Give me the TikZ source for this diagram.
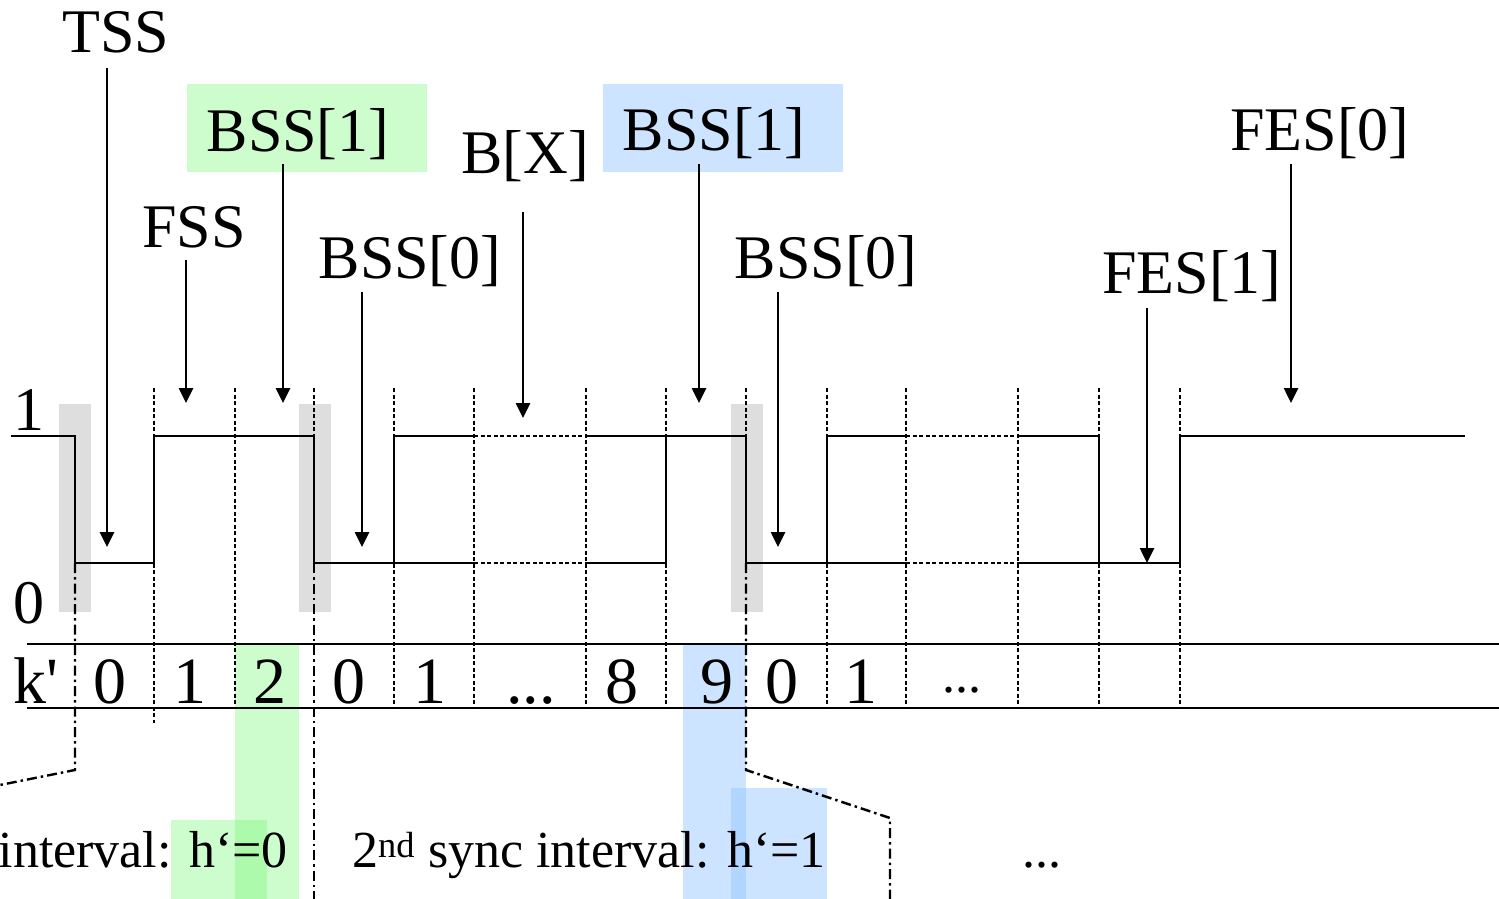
\documentclass[tikz,border=0pt]{standalone}
\usepackage{fontspec}
\setmainfont{Liberation Serif}
\usetikzlibrary{arrows.meta}
\definecolor{gfill}{RGB}{125,247,125}
\definecolor{bfill}{RGB}{142,195,255}
\definecolor{grayfill}{RGB}{222,222,222}
\begin{document}
\begin{tikzpicture}[x=1pt,y=-1pt,
  sig/.style={line width=2.8pt},
  gridline/.style={line width=2.4pt, dash pattern=on 4pt off 2.5pt},
  dashdot/.style={line width=2.4pt, dash pattern=on 10pt off 4pt on 2.5pt off 4pt},
  arr/.style={line width=2.6pt, -{Triangle[width=14pt,length=15pt]}},
  lbl/.style={font=\fontsize{62}{70}\selectfont, inner sep=0pt, anchor=base},
  kd/.style={font=\fontsize{66}{74}\selectfont, inner sep=0pt, anchor=base},
  bt/.style={font=\fontsize{52}{60}\selectfont, inner sep=0pt, anchor=base},
  gbox/.style={fill=gfill, fill opacity=0.39, draw=none},
  bbox/.style={fill=bfill, fill opacity=0.45, draw=none},
  graybar/.style={fill=grayfill, draw=none},
]
\useasboundingbox (0,0) rectangle (1499,899);
\clip (0,0) rectangle (1499,899);
% highlight boxes
\fill[graybar] (59,404) rectangle (91,612);
\fill[graybar] (299,404) rectangle (331,612);
\fill[graybar] (731,404) rectangle (763,612);
\fill[gbox] (187,84) rectangle (427,172);
\fill[gbox] (235,645) rectangle (299,899);
\fill[gbox] (171,820) rectangle (267,899);
\fill[bbox] (603,84) rectangle (843,172);
\fill[bbox] (683,645) rectangle (746,899);
\fill[bbox] (731,788) rectangle (827,899);
% grid lines
\foreach \gx in {235,394,474,586,666,827,906,1018,1099,1180}
  \draw[gridline] (\gx,388) -- (\gx,708);
\draw[gridline] (154,388) -- (154,723);
\draw[gridline] (314,388) -- (314,436);
\draw[gridline] (746,388) -- (746,436);
% dash-dot separators
\draw[dashdot] (75,563) -- (75,770) -- (-100,805);
\draw[dashdot] (314,563) -- (314,899);
\draw[dashdot] (746,563) -- (746,770) -- (890,818) -- (890,899);
% signal
\draw[sig] (11,436) -- (75,436) -- (75,563) -- (154,563) -- (154,436) -- (314,436) -- (314,563) -- (474,563);
\draw[sig] (394,563) -- (394,436) -- (474,436);
\draw[gridline] (474,436) -- (586,436);
\draw[gridline] (474,563) -- (586,563);
\draw[sig] (586,563) -- (666,563) -- (666,436);
\draw[sig] (586,436) -- (746,436) -- (746,563) -- (906,563);
\draw[sig] (827,563) -- (827,436) -- (906,436);
\draw[gridline] (906,436) -- (1018,436);
\draw[gridline] (906,563) -- (1018,563);
\draw[sig] (1018,436) -- (1099,436) -- (1099,563);
\draw[sig] (1018,563) -- (1180,563) -- (1180,436) -- (1465,436);
% k' row lines
\draw[sig] (27,644) -- (1499,644);
\draw[sig] (27,708) -- (1499,708);
% left labels
\node[lbl, anchor=base west] (one) at (13,430) {1};
\node[lbl, anchor=base west] (zero) at (13,623) {0};
\node[kd, anchor=base west] (kp) at (13,703) {k\textquotesingle};
% k' values
\node[kd] (k1) at (110,703) {0};
\node[kd] (k2) at (190,703) {1};
\node[kd] (k3) at (270,703) {2};
\node[kd] (k4) at (349,703) {0};
\node[kd] (k5) at (430,703) {1};
\node[kd] (k6) at (531,703) {...};
\node[kd] (k7) at (622,703) {8};
\node[kd] (k8) at (717,703) {9};
\node[kd] (k9) at (782,703) {0};
\node[kd] (k10) at (861,703) {1};
\node[bt] (k11) at (962,692) {...};
% top labels
\node[lbl] (tss) at (116,53) {TSS};
\node[lbl] (fss) at (194,247) {FSS};
\node[lbl] (bssg) at (298,151) {BSS[1]};
\node[lbl] (bx) at (525,173) {B[X]};
\node[lbl] (bssa) at (410,278) {BSS[0]};
\node[lbl] (bssb) at (714,150) {BSS[1]};
\node[lbl] (bssc) at (826,278) {BSS[0]};
\node[lbl] (fes1) at (1192,293) {FES[1]};
\node[lbl] (fes0) at (1320,150) {FES[0]};
% arrows
\coordinate (tssA) at (107,68);   \coordinate (tssB) at (107,547);
\coordinate (fssA) at (186,260);  \coordinate (fssB) at (186,403);
\coordinate (bssgA) at (283,164); \coordinate (bssgB) at (283,403);
\coordinate (bssaA) at (362,292); \coordinate (bssaB) at (362,547);
\coordinate (bxA) at (523,212);   \coordinate (bxB) at (523,418);
\coordinate (bssbA) at (699,164); \coordinate (bssbB) at (699,403);
\coordinate (bsscA) at (778,292); \coordinate (bsscB) at (778,547);
\coordinate (fes1A) at (1147,308); \coordinate (fes1B) at (1147,563);
\coordinate (fes0A) at (1291,164); \coordinate (fes0B) at (1291,403);
\draw[arr] (tssA) -- (tssB);
\draw[arr] (fssA) -- (fssB);
\draw[arr] (bssgA) -- (bssgB);
\draw[arr] (bssaA) -- (bssaB);
\draw[arr] (bxA) -- (bxB);
\draw[arr] (bssbA) -- (bssbB);
\draw[arr] (bsscA) -- (bsscB);
\draw[arr] (fes1A) -- (fes1B);
\draw[arr] (fes0A) -- (fes0B);
% bottom texts
\node[bt, anchor=base east] (int1) at (288,867) {1\textsuperscript{st} sync interval: h‘=0};
\node[bt, anchor=base west] (int2) at (352,867) {2\textsuperscript{nd} sync interval: h‘=1};
\node[bt] (dots) at (1042,867) {...};
\end{tikzpicture}
\end{document}
